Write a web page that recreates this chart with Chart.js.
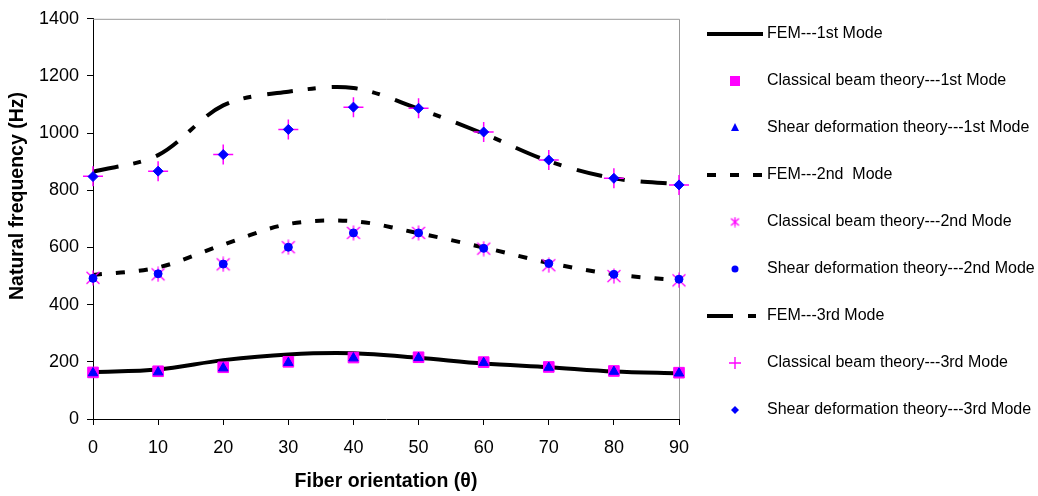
<!DOCTYPE html>
<html>
<head>
<meta charset="utf-8">
<script src="https://cdn.jsdelivr.net/npm/chart.js@4.4.1/dist/chart.umd.min.js"></script>
<style>
  html, body { margin: 0; padding: 0; background: #fff; }
</style>
</head>
<body>
<canvas id="freqChart" width="1038" height="496"></canvas>
<script>
// fiber angle on the x axis
const angles = [0, 10, 20, 30, 40, 50, 60, 70, 80, 90];

// natural frequencies (Hz)
const femMode1 = [164, 173, 206, 226, 230, 214, 194, 181, 166, 160];
const classicalMode1 = [163, 167, 181, 200, 215, 216, 199, 182, 168, 162];
const shearMode1 = [161, 164, 178, 197, 213, 214, 197, 180, 166, 160];

const femMode2 = [504, 530, 610, 682, 692, 650, 600, 546, 506, 485];
const classicalMode2 = [494, 506, 541, 601, 651, 651, 596, 538, 500, 485];
const shearMode2 = [492, 508, 542, 601, 651, 651, 597, 544, 506, 489];

const femMode3 = [865, 923, 1097, 1145, 1158, 1085, 998, 902, 842, 821];
const classicalMode3 = [849, 867, 925, 1013, 1091, 1087, 1004, 906, 842, 819];
const shearMode3 = [848, 867, 925, 1013, 1091, 1087, 1004, 906, 842, 819];

const seriesNames = [
  "FEM---1st Mode",
  "Classical beam theory---1st Mode",
  "Shear deformation theory---1st Mode",
  "FEM---2nd  Mode",
  "Classical beam theory---2nd Mode",
  "Shear deformation theory---2nd Mode",
  "FEM---3rd Mode",
  "Classical beam theory---3rd Mode",
  "Shear deformation theory---3rd Mode"
];

const xTicks = [0, 10, 20, 30, 40, 50, 60, 70, 80, 90];
const yTicks = [0, 200, 400, 600, 800, 1000, 1200, 1400];
const xTitle = "Fiber orientation (\u03b8)";
const yTitle = "Natural frequency (Hz)";

const FONT = "'Liberation Sans', Arial, sans-serif";
const MAGENTA = "#ff00ff";
const BLUE = "#0000ff";

function makeAsterisk(size) {
  let c = document.createElement("canvas");
  c.width = size;
  c.height = size;
  let g = c.getContext("2d");
  let m = size / 2;
  g.strokeStyle = MAGENTA;
  g.lineWidth = 1.3;
  g.beginPath();
  g.moveTo(m, 0.5); g.lineTo(m, size - 0.5);
  g.moveTo(1.5, 2); g.lineTo(size - 1.5, size - 2);
  g.moveTo(size - 1.5, 2); g.lineTo(1.5, size - 2);
  g.stroke();
  return c;
}

const asteriskBig = makeAsterisk(16);
const asteriskSmall = makeAsterisk(11);

function toPoints(values) {
  return angles.map((a, i) => ({ x: a, y: values[i] }));
}

function lineSet(label, values, dash) {
  return {
    label: label,
    data: toPoints(values),
    borderColor: "#000",
    borderWidth: 4,
    borderDash: dash,
    borderCapStyle: "butt",
    pointRadius: 0,
    pointHoverRadius: 0,
    tension: 0.33,
    fill: false,
    clip: false
  };
}

function markerSet(label, values, style, radius, fill, stroke, bw) {
  return {
    label: label,
    data: toPoints(values),
    showLine: false,
    pointStyle: style,
    pointRadius: radius,
    pointHoverRadius: radius,
    pointBackgroundColor: fill,
    pointBorderColor: stroke,
    pointBorderWidth: bw,
    clip: false
  };
}

let datasets = [
  lineSet(seriesNames[0], femMode1, []),
  markerSet(seriesNames[1], classicalMode1, "rect", 7.5, MAGENTA, MAGENTA, 1),
  markerSet(seriesNames[2], shearMode1, "triangle", 5.5, BLUE, BLUE, 1),
  lineSet(seriesNames[3], femMode2, [9, 14]),
  markerSet(seriesNames[4], classicalMode2, asteriskBig, 8, MAGENTA, MAGENTA, 1),
  markerSet(seriesNames[5], shearMode2, "circle", 4, BLUE, BLUE, 1),
  lineSet(seriesNames[6], femMode3, [26, 15, 8, 16]),
  markerSet(seriesNames[7], classicalMode3, "cross", 10, MAGENTA, MAGENTA, 1.5),
  markerSet(seriesNames[8], shearMode3, "rectRot", 5, BLUE, BLUE, 1)
];
// later series sit on top, like the original
datasets.forEach((ds, i) => { ds.order = datasets.length - i; });

function drawLegendIcon(ctx, ds, cx, cy) {
  ctx.save();
  if (ds.showLine !== false) {
    ctx.strokeStyle = "#000";
    ctx.lineWidth = 4;
    ctx.setLineDash(ds.borderDash);
    ctx.beginPath();
    ctx.moveTo(cx - 28, cy);
    ctx.lineTo(cx + 28, cy);
    ctx.stroke();
    ctx.restore();
    return;
  }
  let s = ds.pointStyle;
  ctx.fillStyle = ds.pointBackgroundColor;
  ctx.strokeStyle = ds.pointBorderColor;
  ctx.lineWidth = 1.4;
  ctx.beginPath();
  if (s === "rect") {
    ctx.rect(cx - 5, cy - 5, 10, 10);
    ctx.fill();
  } else if (s === "triangle") {
    ctx.moveTo(cx, cy - 5);
    ctx.lineTo(cx + 4, cy + 3);
    ctx.lineTo(cx - 4, cy + 3);
    ctx.closePath();
    ctx.fill();
  } else if (s === "circle") {
    ctx.arc(cx, cy, 3.5, 0, Math.PI * 2);
    ctx.fill();
  } else if (s === "cross") {
    ctx.moveTo(cx - 6, cy); ctx.lineTo(cx + 6, cy);
    ctx.moveTo(cx, cy - 6); ctx.lineTo(cx, cy + 6);
    ctx.stroke();
  } else if (s === "rectRot") {
    ctx.moveTo(cx, cy - 4); ctx.lineTo(cx + 4, cy);
    ctx.lineTo(cx, cy + 4); ctx.lineTo(cx - 4, cy);
    ctx.closePath();
    ctx.fill();
  } else {
    ctx.drawImage(asteriskSmall, cx - 5.5, cy - 5.5);
  }
  ctx.restore();
}

const framePlugin = {
  id: "frame",
  beforeDatasetsDraw(chart) {
    let ctx = chart.ctx;
    let a = chart.chartArea;
    ctx.save();
    ctx.strokeStyle = "#999";
    ctx.lineWidth = 1;
    ctx.beginPath();
    ctx.moveTo(a.left, a.top + 0.5);
    ctx.lineTo(a.right + 0.5, a.top + 0.5);
    ctx.lineTo(a.right + 0.5, a.bottom);
    ctx.stroke();
    ctx.restore();
  },
  afterDraw(chart) {
    let ctx = chart.ctx;
    // y axis title
    ctx.save();
    ctx.translate(18, 196);
    ctx.rotate(-Math.PI / 2);
    ctx.font = "bold 19.5px " + FONT;
    ctx.fillStyle = "#000";
    ctx.textAlign = "center";
    ctx.textBaseline = "middle";
    ctx.fillText(yTitle, 0, 0);
    ctx.restore();

    // legend
    chart.data.datasets.forEach((ds, i) => {
      let y = 34 + i * 47;
      drawLegendIcon(ctx, ds, 735, y);
      ctx.save();
      ctx.font = "16px " + FONT;
      ctx.fillStyle = "#000";
      ctx.textAlign = "left";
      ctx.textBaseline = "middle";
      ctx.fillText(ds.label, 767, y);
      ctx.restore();
    });
  }
};

new Chart(document.getElementById("freqChart"), {
  type: "line",
  data: { datasets: datasets },
  plugins: [framePlugin],
  options: {
    responsive: false,
    animation: false,
    devicePixelRatio: 1,
    layout: { padding: { left: 0, top: 16, right: 359, bottom: 0 } },
    plugins: {
      legend: { display: false },
      tooltip: { enabled: false }
    },
    scales: {
      x: {
        type: "linear",
        min: 0,
        max: 90,
        afterBuildTicks: s => { s.ticks = xTicks.map(v => ({ value: v })); },
        afterFit: s => { s.height = 77; },
        ticks: {
          font: { family: FONT, size: 18 },
          color: "#000",
          padding: 12,
          maxRotation: 0,
          autoSkip: false,
          callback: v => String(v)
        },
        grid: { drawOnChartArea: false, drawTicks: true, tickLength: 6, color: "#000" },
        border: { display: true, color: "#000", width: 1 },
        title: {
          display: true,
          text: xTitle,
          color: "#000",
          font: { family: FONT, size: 19.5, weight: "bold", lineHeight: 1.2 },
          padding: { top: 0, bottom: 3 }
        }
      },
      y: {
        min: 0,
        max: 1400,
        afterBuildTicks: s => { s.ticks = yTicks.map(v => ({ value: v })); },
        afterFit: s => { s.width = 93; },
        ticks: {
          font: { family: FONT, size: 18 },
          color: "#000",
          padding: 8,
          callback: v => String(v)
        },
        grid: { drawOnChartArea: false, drawTicks: true, tickLength: 6, color: "#000" },
        border: { display: true, color: "#000", width: 1 },
        title: { display: false }
      }
    }
  }
});
</script>
</body>
</html>
